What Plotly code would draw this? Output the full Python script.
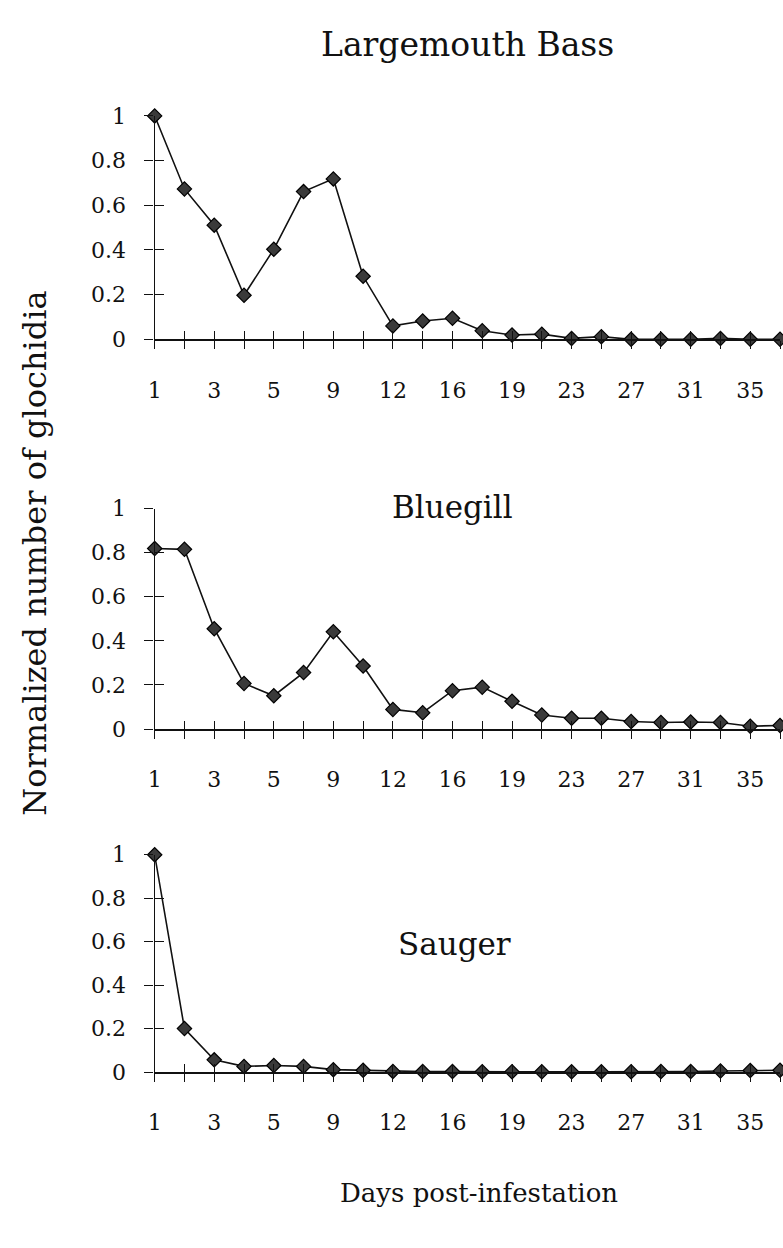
import plotly.graph_objects as go

W, H = 783, 1248

days = ["1", "2", "3", "4", "5", "7", "9", "10", "12", "14", "16", "17",
        "19", "21", "23", "25", "27", "29", "31", "33", "35", "37"]
tick_text = ["1", "", "3", "", "5", "", "9", "", "12", "", "16", "",
             "19", "", "23", "", "27", "", "31", "", "35", ""]

largemouth_bass = [1.0, 0.673, 0.511, 0.197, 0.403, 0.661, 0.718, 0.282, 0.060, 0.082,
                   0.094, 0.038, 0.019, 0.023, 0.004, 0.012, 0.0, 0.0, 0.0, 0.004, 0.0, 0.0]
bluegill = [0.819, 0.815, 0.455, 0.207, 0.151, 0.256, 0.441, 0.286, 0.089, 0.074,
            0.174, 0.190, 0.126, 0.064, 0.049, 0.049, 0.034, 0.030, 0.032, 0.030, 0.013, 0.016]
sauger = [1.0, 0.200, 0.056, 0.026, 0.030, 0.026, 0.011, 0.008, 0.003, 0.002,
          0.002, 0.001, 0.001, 0.001, 0.001, 0.001, 0.001, 0.002, 0.002, 0.005, 0.007, 0.008]

series = [("Largemouth Bass", largemouth_bass), ("Bluegill", bluegill), ("Sauger", sauger)]

# pixel layout (top of y=1, y=0) for each panel
panel_px = [(106, 334), (506.7, 731.7), (860, 1081.7)]
x_left_px, x_right_px = 149, 780
title_px = [(465, 33), (450, 505), (452, 951)]
title_size = [33, 31, 31]

FONT = "DejaVu Serif"

def py(p):
    return 1 - p / H

def pxx(p):
    return p / W

fig = go.Figure()
layout = {}
n = len(series)
for i, (name, vals) in enumerate(series):
    k = i + 1
    main_x = "x" if k == 1 else f"x{k}"
    main_y = "y" if k == 1 else f"y{k}"
    ov = k + n
    ov_x, ov_y = f"x{ov}", f"y{ov}"
    fig.add_trace(go.Scatter(
        x=days, y=vals, mode="lines+markers", name=name,
        xaxis=main_x, yaxis=main_y, cliponaxis=False,
        line=dict(color="#111111", width=1.6),
        marker=dict(symbol="diamond", size=11, color="#3a3a3a",
                    line=dict(color="#000000", width=1.2)),
        showlegend=False, hoverinfo="x+y"))
    # invisible copy on overlay axes (used for inward-pointing tick halves)
    fig.add_trace(go.Scatter(
        x=days, y=vals, mode="markers", xaxis=ov_x, yaxis=ov_y,
        marker=dict(opacity=0), showlegend=False, hoverinfo="skip"))

    top, bot = panel_px[i]
    ydom = [py(bot), py(top)]
    xdom = [pxx(x_left_px), pxx(x_right_px)]
    xcommon = dict(domain=xdom, type="category", categoryorder="array",
                   categoryarray=days, range=[0, len(days) - 1],
                   showgrid=False, zeroline=False, fixedrange=True)
    ycommon = dict(domain=ydom, range=[0, 1], showgrid=False, zeroline=False,
                   fixedrange=True, tickvals=[0, 0.2, 0.4, 0.6, 0.8, 1])
    xname = "xaxis" if k == 1 else f"xaxis{k}"
    yname = "yaxis" if k == 1 else f"yaxis{k}"
    layout[xname] = dict(**xcommon, anchor=main_y, tickvals=days, ticktext=tick_text,
                         ticks="outside", ticklen=8, tickwidth=1.2, tickcolor="#111",
                         showline=True, linecolor="#111", linewidth=1.6,
                         tickfont=dict(family=FONT, size=22, color="#111"),
                         ticklabelstandoff=22)
    layout[yname] = dict(**ycommon, anchor=main_x,
                         ticktext=["0", "0.2", "0.4", "0.6", "0.8", "1"],
                         ticks="outside", ticklen=9, tickwidth=1.2, tickcolor="#111",
                         showline=True, linecolor="#111", linewidth=1.4,
                         tickfont=dict(family=FONT, size=22, color="#111"),
                         ticklabelstandoff=14)
    layout[f"xaxis{ov}"] = dict(**xcommon, anchor=ov_y, overlaying=main_x,
                                tickvals=days, ticks="inside", ticklen=8, tickwidth=1.2,
                                tickcolor="#111", showticklabels=False, showline=False)
    layout[f"yaxis{ov}"] = dict(**ycommon, anchor=ov_x, overlaying=main_y,
                                ticks="inside", ticklen=9, tickwidth=1.2, tickcolor="#111",
                                showticklabels=False, showline=False)

annotations = []
for (name, _), (tx, ty), fs in zip(series, title_px, title_size):
    annotations.append(dict(text=name, x=pxx(tx), y=py(ty), xref="paper", yref="paper",
                            xanchor="center", yanchor="middle", showarrow=False,
                            font=dict(family=FONT, size=fs, color="#111")))
annotations.append(dict(text="Normalized number of glochidia", x=pxx(28), y=py(552),
                        xref="paper", yref="paper", textangle=-90, showarrow=False,
                        xanchor="center", yanchor="middle",
                        font=dict(family=FONT, size=32, color="#111")))
annotations.append(dict(text="Days post-infestation", x=pxx(476), y=py(1205),
                        xref="paper", yref="paper", showarrow=False,
                        xanchor="center", yanchor="middle",
                        font=dict(family=FONT, size=26, color="#111")))

fig.update_layout(width=W, height=H, margin=dict(l=0, r=0, t=0, b=0),
                  paper_bgcolor="white", plot_bgcolor="white",
                  annotations=annotations, **layout)

fig.write_html("out.html")
